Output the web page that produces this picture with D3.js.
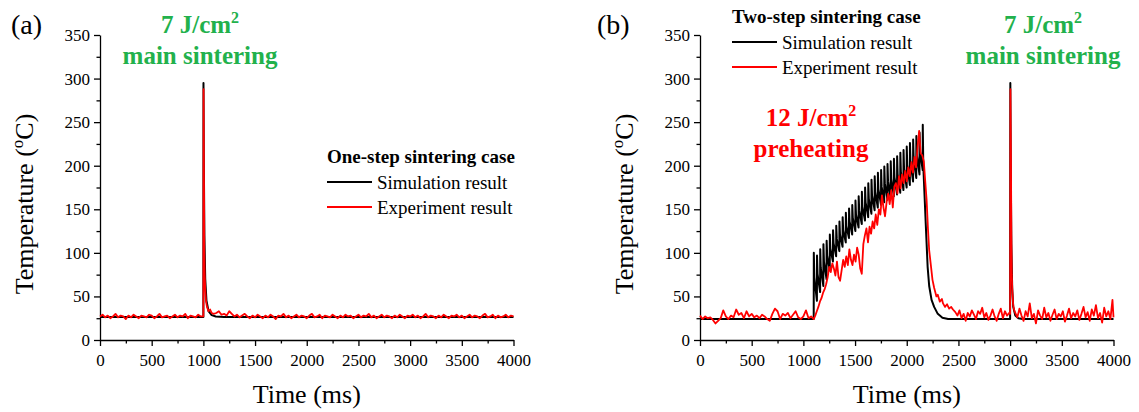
<!DOCTYPE html>
<html>
<head>
<meta charset="utf-8">
<script src="https://cdn.jsdelivr.net/npm/d3@7"></script>
<style>
  html, body { margin: 0; padding: 0; background: #fff; }
  svg { display: block; }
</style>
</head>
<body>
<div id="chart"></div>
<script>
// ---------------- DATA ----------------
const xTicks = [0, 500, 1000, 1500, 2000, 2500, 3000, 3500, 4000];
const xMinorTicks = [250, 750, 1250, 1750, 2250, 2750, 3250, 3750];
const yTicks = [0, 50, 100, 150, 200, 250, 300, 350];
const yMinorTicks = [25, 75, 125, 175, 225, 275, 325];

// Panel (a): one-step sintering — simulation [time ms, temp °C]
const simA = [[0,26.5],[1000,26.5],[1001,295],[1004,213],[1010,120],[1018,70],[1030,45],
  [1050,33],[1080,28.5],[1120,27],[1200,26.5],[4000,26.5]];

// Panel (a): experiment
const expA = [[0,27],[25,29],[50,26],[75,28],[100,25],[125,27],[150,30],[175,26],[200,28],[225,27],
  [250,24],[275,28],[300,26],[325,29],[350,27],[375,25],[400,28],[425,27],[450,26],[475,29],
  [500,28],[525,25],[550,27],[575,30],[600,26],[625,27],[650,28],[675,25],[700,27],[725,29],
  [750,26],[775,28],[800,27],[825,30],[850,25],[875,28],[900,27],[925,26],[950,29],[975,27],
  [1000,27],[1002,288],[1006,180],[1009,101],[1013,75],[1018,58],[1025,45],[1035,38],[1050,33],
  [1065,35],[1080,31],[1100,30],
  [1125,31],[1150,33],[1175,29],[1200,30],[1225,28],[1250,33],[1275,30],[1300,27],[1325,29],[1350,26],
  [1375,28],[1400,30],[1425,27],[1450,25],[1475,28],[1500,26],[1525,29],[1550,27],[1575,25],[1600,28],
  [1625,26],[1650,29],[1675,27],[1700,24],[1725,28],[1750,27],[1775,30],[1800,26],[1825,28],[1850,25],
  [1875,27],[1900,29],[1925,26],[1950,28],[1975,27],[2000,25],[2025,28],[2050,30],[2075,26],[2100,27],
  [2125,29],[2150,25],[2175,28],[2200,27],[2225,26],[2250,29],[2275,27],[2300,25],[2325,28],[2350,26],
  [2375,29],[2400,27],[2425,28],[2450,25],[2475,27],[2500,29],[2525,26],[2550,28],[2575,27],[2600,30],
  [2625,26],[2650,28],[2675,25],[2700,27],[2725,29],[2750,26],[2775,28],[2800,27],[2825,25],[2850,28],
  [2875,26],[2900,29],[2925,27],[2950,25],[2975,28],[3000,27],[3025,29],[3050,26],[3075,28],[3100,25],
  [3125,27],[3150,30],[3175,26],[3200,28],[3225,27],[3250,25],[3275,28],[3300,26],[3325,29],[3350,27],
  [3375,25],[3400,28],[3425,27],[3450,29],[3475,26],[3500,28],[3525,25],[3550,27],[3575,29],[3600,26],
  [3625,28],[3650,27],[3675,25],[3700,28],[3725,30],[3750,26],[3775,27],[3800,29],[3825,25],[3850,28],
  [3875,26],[3900,27],[3925,29],[3950,26],[3975,28],[4000,27]];

// Panel (b): two-step sintering — simulation preheating pulses
const pulseTimesB = [1100,1131,1162,1193,1224,1255,1286,1317,1348,1379,1410,1441,1472,1503,1534,1565,1596,
  1627,1658,1689,1720,1751,1782,1813,1844,1875,1906,1937,1968,1999,2030,2061,2092,2123,2154];
const pulsePeaksB = [100,97,104,110,114,121,126,131,136,141,146,151,155,160,165,170,175,180,184,188,192,
  195,199,202,205,208,211,215,218,222,226,230,234,238,247];
const pulseMidsB = [72,76,83,90,97,105,111,116,121,126,131,136,140,144,149,153,158,162,166,170,173,176,
  180,182,185,187,190,193,196,200,204,208,212,216];
const pulseTroughsB = [45,55,62,70,80,90,96,102,107,112,117,121,125,129,133,137,141,145,149,152,155,158,
  161,163,165,167,169,172,175,178,182,186,190,195];
const simBStart = [[0,24],[1100,24]];
const simBTail = [[2160,200],[2185,130],[2202,84],[2217,62],[2240,46],[2265,38],[2300,30],[2345,25.5],
  [2400,24],[3000,24],[3002,295],[3006,200],[3012,110],[3020,60],[3030,38],[3050,28],[3080,25],
  [3120,24],[4000,24]];

// Panel (b): experiment
const expB = [[0,28],[25,24],[50,27],[75,25],[100,26],[125,23],[150,19],[175,22],[200,25],[225,34],
  [250,27],[275,24],[300,28],[325,26],[350,35],[375,29],[400,31],[425,25],[450,33],[475,27],
  [500,30],[525,26],[550,28],[575,25],[600,29],[625,27],[650,24],[675,22],[700,30],[725,36],
  [750,33],[775,24],[800,30],[825,28],[850,31],[875,25],[900,29],[925,33],[950,26],[975,24],
  [1000,27],[1025,34],[1050,25],[1075,27],[1100,24],
  [1115,28],[1130,33],[1145,38],[1160,44],[1175,48],[1190,54],[1205,58],[1220,64],[1235,72],[1250,84],
  [1265,78],[1280,88],[1295,82],[1310,74],[1325,90],[1340,72],[1355,68],[1370,80],[1385,92],[1400,84],
  [1415,96],[1430,86],[1445,104],[1460,92],[1475,86],[1490,98],[1505,90],[1520,106],[1535,98],[1550,82],
  [1565,76],[1580,110],[1595,120],[1610,128],[1625,112],[1640,130],[1655,122],[1670,136],[1685,128],[1700,144],
  [1715,132],[1730,150],[1745,144],[1760,166],[1775,152],[1790,142],[1805,158],[1820,168],[1835,156],[1850,172],
  [1865,152],[1880,176],[1895,180],[1910,168],[1925,188],[1940,174],[1955,190],[1970,180],[1985,194],[2000,182],
  [2015,198],[2030,188],[2045,204],[2060,192],[2075,210],[2090,198],[2105,222],[2120,240],[2135,214],[2150,212],
  [2165,205],[2180,180],[2192,161],[2205,128],[2217,103],[2235,84],[2249,69],[2265,60],[2287,50],[2300,52],
  [2320,44],[2340,47],[2351,42],[2370,38],[2390,41],[2410,36],[2430,38],[2447,35],[2470,32],
  [2490,28],[2510,34],[2530,25],[2550,30],[2570,22],[2590,31],[2610,27],[2630,34],[2650,29],[2670,24],
  [2690,33],[2710,30],[2730,37],[2750,26],[2770,31],[2790,23],[2810,28],[2830,35],[2850,27],[2870,22],
  [2890,30],[2910,36],[2930,25],[2950,33],[2970,28],[2990,31],
  [3000,30],[3003,288],[3008,210],[3012,120],[3016,75],[3022,55],[3030,40],[3040,34],
  [3050,31],[3070,26],[3090,36],[3110,28],[3130,22],[3150,33],[3170,27],[3190,42],[3210,25],[3230,30],
  [3250,19],[3270,34],[3290,28],[3310,24],[3330,37],[3350,26],[3370,31],[3390,22],[3410,29],[3430,35],
  [3450,24],[3470,30],[3490,27],[3510,33],[3530,21],[3550,28],[3570,36],[3590,25],[3610,31],[3630,27],
  [3650,34],[3670,23],[3690,30],[3710,38],[3730,26],[3750,32],[3770,22],[3790,35],[3810,28],[3830,40],
  [3850,25],[3870,31],[3890,20],[3910,37],[3930,27],[3950,33],[3970,24],[3990,46],[4000,26]];

// Build panel (b) simulation table from pulse arrays
const simB = simBStart.slice();
pulseTimesB.forEach((t, k) => {
  if (k > 0) simB.push([t, pulseTroughsB[k - 1]]);
  simB.push([t + 1, pulsePeaksB[k]]);
  if (k < pulseMidsB.length) simB.push([t + 6, pulseMidsB[k]]);
});
simBTail.forEach(d => simB.push(d));

// ---------------- DRAW ----------------
const W = 1139, H = 412;
const FONT = '"Liberation Serif", "Times New Roman", Times, serif';
const GREEN = "#22b14c", RED = "#ff0000";
const svg = d3.select("#chart").append("svg").attr("width", W).attr("height", H);
svg.append("rect").attr("width", W).attr("height", H).attr("fill", "#fff");

function panel(cfg) {
  const x = d3.scaleLinear().domain([0, 4000]).range([cfg.left, cfg.left + 413.5]);
  const y = d3.scaleLinear().domain([0, 350]).range([340, 35]);
  const g = svg.append("g");

  // minor ticks
  g.append("g").attr("transform", "translate(0,340)")
    .call(d3.axisBottom(x).tickValues(xMinorTicks).tickSize(3.5).tickSizeOuter(0).tickFormat(""))
    .call(s => s.select(".domain").remove());
  g.append("g").attr("transform", `translate(${cfg.left},0)`)
    .call(d3.axisLeft(y).tickValues(yMinorTicks).tickSize(3.5).tickSizeOuter(0).tickFormat(""))
    .call(s => s.select(".domain").remove());

  // major axes
  const xa = g.append("g").attr("transform", "translate(0,340)")
    .call(d3.axisBottom(x).tickValues(xTicks).tickSize(6).tickSizeOuter(0).tickPadding(8).tickFormat(d3.format("d")));
  const ya = g.append("g").attr("transform", `translate(${cfg.left},0)`)
    .call(d3.axisLeft(y).tickValues(yTicks).tickSize(6).tickSizeOuter(0).tickPadding(4).tickFormat(d3.format("d")));
  [xa, ya].forEach(a => {
    a.attr("font-family", null);
    a.selectAll("text").style("font-size", "17px").style("fill", "#000");
    a.select(".domain").attr("stroke", "#000").attr("stroke-width", 1.3);
  });
  g.selectAll(".tick line").attr("stroke", "#000").attr("stroke-width", 1.3);

  // lines
  const line = d3.line().x(d => x(d[0])).y(d => y(d[1]));
  g.append("path").datum(cfg.sim).attr("d", line).attr("fill", "none")
    .attr("stroke", "#000").attr("stroke-width", 2).attr("stroke-linejoin", "round");
  g.append("path").datum(cfg.exp).attr("d", line).attr("fill", "none")
    .attr("stroke", RED).attr("stroke-width", 1.8).attr("stroke-linejoin", "round");

  // axis titles
  g.append("text").attr("x", cfg.left + 206.75).attr("y", 403).attr("text-anchor", "middle")
    .style("font-size", "26px").text("Time (ms)");
  const yt = g.append("text").attr("transform", `translate(${cfg.left - 67},${204}) rotate(-90)`)
    .attr("text-anchor", "middle").style("font-size", "26px");
  yt.append("tspan").text("Temperature (");
  yt.append("tspan").style("font-size", "17px").attr("dy", -10).text("o");
  yt.append("tspan").attr("dy", 10).text("C)");

  // panel label
  g.append("text").attr("x", cfg.labelX).attr("y", 34).style("font-size", "28px").text(cfg.label);

  // legend
  const L = cfg.legend;
  g.append("text").attr("x", L.x).attr("y", L.y).style("font-size", "19px").style("font-weight", "bold").text(L.title);
  [["Simulation result", "#000"], ["Experiment result", RED]].forEach((it, i) => {
    const ly = L.y + 19 + i * 25;
    g.append("line").attr("x1", L.x).attr("x2", L.x + 45).attr("y1", ly).attr("y2", ly)
      .attr("stroke", it[1]).attr("stroke-width", 2);
    g.append("text").attr("x", L.x + 50).attr("y", ly + 7).style("font-size", "19px").text(it[0]);
  });

  // annotations
  cfg.notes.forEach(n => {
    const t1 = g.append("text").attr("x", n.x).attr("y", n.y).attr("text-anchor", "middle")
      .style("font-size", "25px").style("font-weight", "bold").style("fill", n.color);
    t1.append("tspan").text(n.l1);
    t1.append("tspan").style("font-size", "16px").attr("dy", -10).text("2");
    g.append("text").attr("x", n.x).attr("y", n.y + 31).attr("text-anchor", "middle")
      .style("font-size", "25px").style("font-weight", "bold").style("fill", n.color).text(n.l2);
  });
}

panel({
  left: 100, label: "(a)", labelX: 11, sim: simA, exp: expA,
  legend: { x: 327, y: 163, title: "One-step sintering case" },
  notes: [{ x: 200, y: 33, color: GREEN, l1: "7 J/cm", l2: "main sintering" }]
});
panel({
  left: 700, label: "(b)", labelX: 597, sim: simB, exp: expB,
  legend: { x: 732, y: 23, title: "Two-step sintering case" },
  notes: [
    { x: 1043, y: 33, color: GREEN, l1: "7 J/cm", l2: "main sintering" },
    { x: 811, y: 126, color: RED, l1: "12 J/cm", l2: "preheating" }
  ]
});

svg.selectAll("text").style("font-family", FONT);
svg.selectAll("text").filter(function () { return !this.style.fill; }).style("fill", "#000");
</script>
</body>
</html>
